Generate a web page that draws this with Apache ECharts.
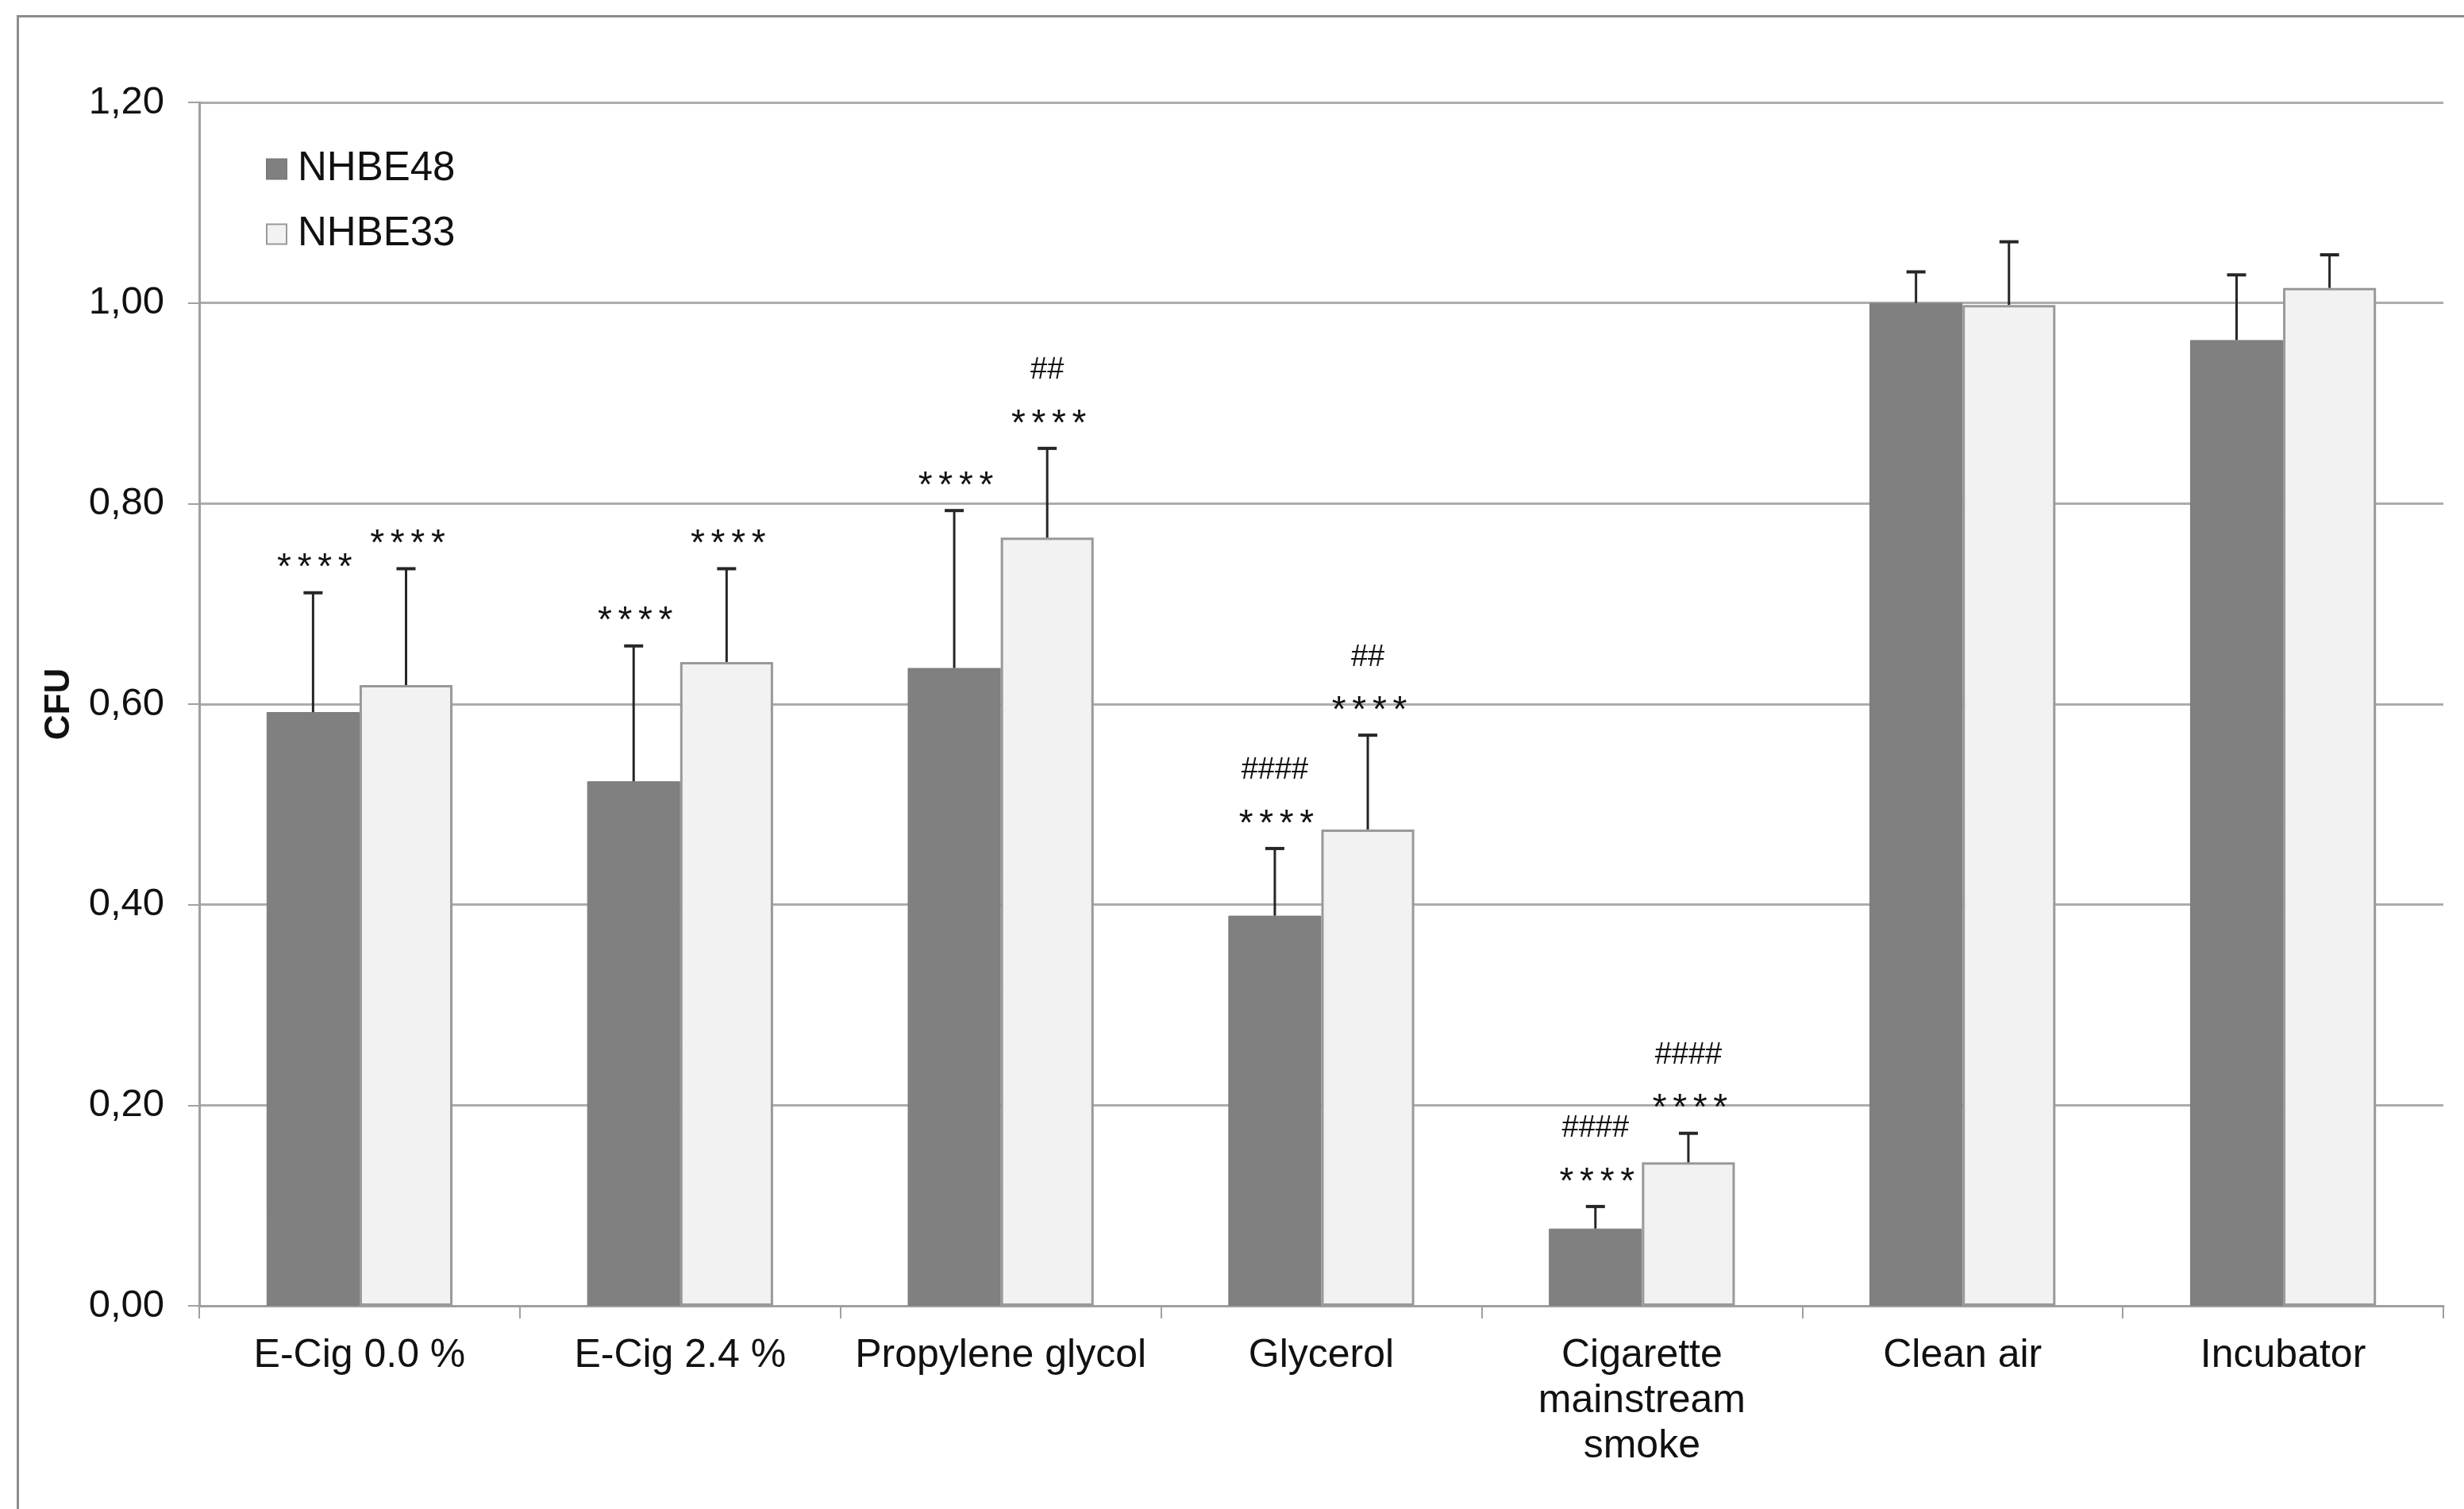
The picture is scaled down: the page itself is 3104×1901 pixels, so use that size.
<!DOCTYPE html>
<html>
<head>
<meta charset="utf-8">
<script src="https://cdn.jsdelivr.net/npm/echarts@6/dist/echarts.min.js"></script>
<style>
html,body{margin:0;padding:0;background:#fff;}
#chart{width:3104px;height:1901px;}
</style>
</head>
<body>
<div id="chart"></div>
<script>
var categories = ['E-Cig 0.0 %', 'E-Cig 2.4 %', 'Propylene glycol', 'Glycerol', 'Cigarette\nmainstream\nsmoke', 'Clean air', 'Incubator'];
var nhbe48 = [0.592, 0.523, 0.636, 0.389, 0.077, 1.000, 0.963];
var nhbe48Sd = [0.119, 0.135, 0.157, 0.067, 0.022, 0.031, 0.065];
var nhbe33 = [0.619, 0.642, 0.766, 0.475, 0.143, 0.998, 1.015];
var nhbe33Sd = [0.116, 0.093, 0.089, 0.094, 0.029, 0.063, 0.033];
var stars48 = ['****', '****', '****', '****', '****', '', ''];
var hash48 = ['', '', '', '####', '####', '', ''];
var stars33 = ['****', '****', '****', '****', '****', '', ''];
var hash33 = ['', '', '##', '##', '####', '', ''];
var yTicks = [0, 0.2, 0.4, 0.6, 0.8, 1.0, 1.2];

var chart = echarts.init(document.getElementById('chart'));
var FONT = 'Liberation Sans, Arial, sans-serif';
var CAT_GAP = 0.42;

function errSeries(name, means, sds, stars, hashes, side) {
  var data = means.map(function (m, i) { return [i, m, m + sds[i]]; });
  return {
    type: 'custom',
    name: name + ' err',
    z: 5,
    silent: true,
    data: data,
    renderItem: function (params, api) {
      var i = params.dataIndex;
      var bw = api.size([1, 0])[0];
      var barW = bw * (1 - CAT_GAP) / 2;
      var base = api.coord([api.value(0), api.value(1)]);
      var top = api.coord([api.value(0), api.value(2)]);
      var x = base[0] + side * barW / 2;
      var cap = 12;
      var children = [
        { type: 'line', shape: { x1: x, y1: base[1], x2: x, y2: top[1] }, style: { stroke: '#262626', lineWidth: 3 } },
        { type: 'line', shape: { x1: x - cap, y1: top[1], x2: x + cap, y2: top[1] }, style: { stroke: '#262626', lineWidth: 4 } }
      ];
      if (stars[i]) {
        children.push({ type: 'text', style: { text: stars[i].split('').join('\u2006'), x: x + 2, y: top[1] - 30, align: 'center', verticalAlign: 'middle', fill: '#111', font: '46px ' + FONT } });
      }
      if (hashes[i]) {
        children.push({ type: 'text', style: { text: hashes[i], x: x, y: top[1] - 98, align: 'center', verticalAlign: 'middle', fill: '#111', font: '38px ' + FONT } });
      }
      return { type: 'group', children: children };
    }
  };
}

var option = {
  backgroundColor: '#ffffff',
  animation: false,
  textStyle: { fontFamily: FONT },
  graphic: [{
    type: 'rect', left: 20, top: 18, silent: true,
    shape: { width: 3300, height: 2100 },
    style: { fill: 'none', stroke: '#8c8c8c', lineWidth: 3 }
  }],
  legend: {
    orient: 'vertical',
    left: 330, top: 180,
    itemWidth: 25, itemHeight: 25, itemGap: 26,
    icon: 'rect',
    data: ['NHBE48', 'NHBE33'],
    textStyle: { fontSize: 51, color: '#111', fontFamily: FONT, lineHeight: 56, padding: [0, 0, 0, 9] }
  },
  grid: { left: 251, right: 26, top: 129, bottom: 256, containLabel: false },
  xAxis: {
    type: 'category',
    data: categories,
    axisLine: { show: true, lineStyle: { color: '#a0a0a0', width: 3 } },
    axisTick: { show: true, length: 16, lineStyle: { color: '#a0a0a0', width: 2 } },
    axisLabel: { fontSize: 50, color: '#111', margin: 35, lineHeight: 57, fontFamily: FONT, interval: 0 }
  },
  yAxis: {
    type: 'value',
    min: 0, max: 1.2, interval: 0.2,
    name: 'CFU',
    nameLocation: 'middle',
    nameRotate: 90,
    nameGap: 154,
    nameTextStyle: { fontSize: 44, fontWeight: 'bold', color: '#111', fontFamily: FONT },
    axisLine: { show: true, lineStyle: { color: '#a0a0a0', width: 3 } },
    axisTick: { show: true, length: 14, lineStyle: { color: '#a0a0a0', width: 2 } },
    splitLine: { show: true, lineStyle: { color: '#acacac', width: 3 } },
    axisLabel: {
      fontSize: 49, color: '#111', margin: 44, fontFamily: FONT,
      formatter: function (v) { return v.toFixed(2).replace('.', ','); }
    }
  },
  series: [
    {
      type: 'bar', name: 'NHBE48', data: nhbe48,
      barGap: '0%', barCategoryGap: (CAT_GAP * 100) + '%',
      itemStyle: { color: '#808080', borderColor: '#7a7a7a', borderWidth: 1 }
    },
    {
      type: 'bar', name: 'NHBE33', data: nhbe33,
      barGap: '0%', barCategoryGap: (CAT_GAP * 100) + '%',
      itemStyle: { color: '#f2f2f2', borderColor: '#999999', borderWidth: 3 }
    },
    errSeries('NHBE48', nhbe48, nhbe48Sd, stars48, hash48, -1),
    errSeries('NHBE33', nhbe33, nhbe33Sd, stars33, hash33, 1)
  ]
};
chart.setOption(option);
</script>
</body>
</html>
